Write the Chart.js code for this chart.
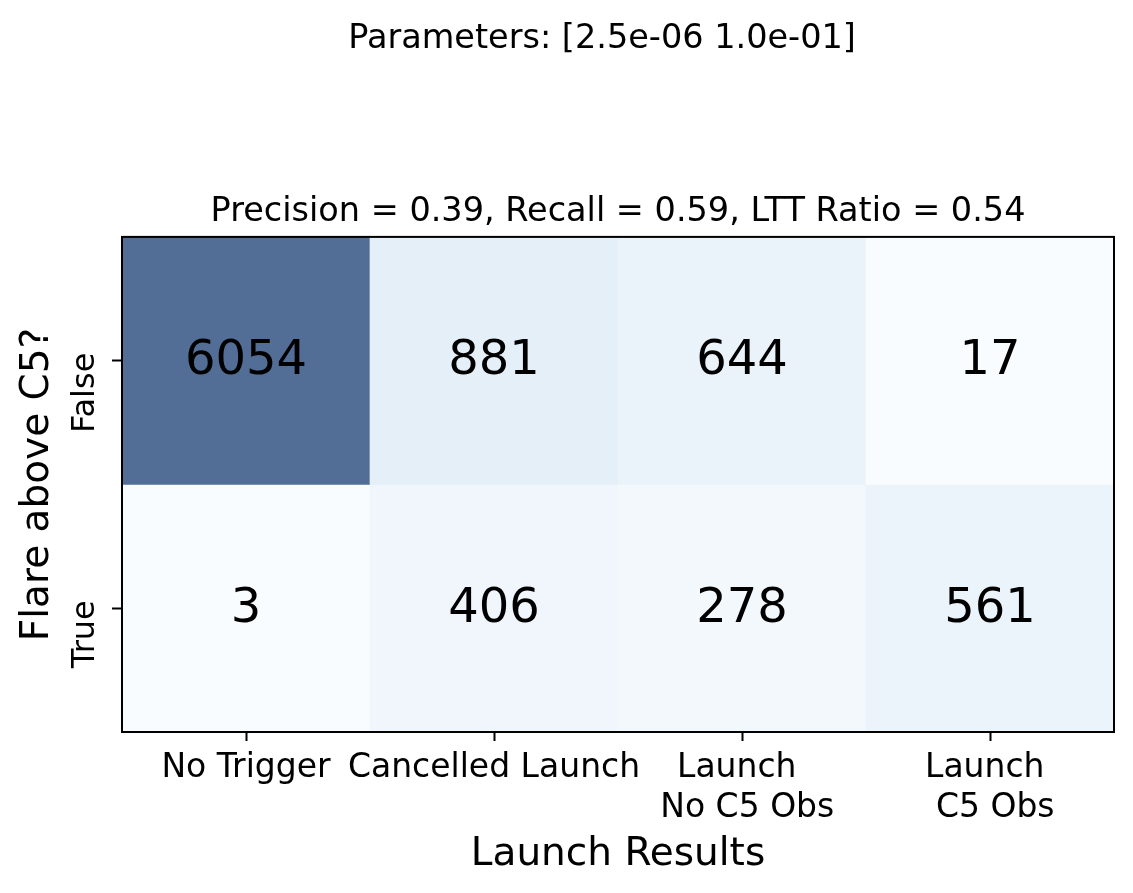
<!DOCTYPE html>
<html>
<head>
<meta charset="utf-8">
<script src="https://cdn.jsdelivr.net/npm/chart.js@4.4.0/dist/chart.umd.min.js"></script>
<style>
  html, body { margin: 0; padding: 0; background: #fff; }
</style>
</head>
<body>
<canvas id="heatmap" width="1133" height="893"></canvas>
<script>
// chart data
const launchResults = ["No Trigger", "Cancelled Launch", ["Launch ", " No C5 Obs"], ["Launch ", " C5 Obs"]];
const flareRows = ["False", "True"];
const countsFalse = [6054, 881, 644, 17];
const countsTrue = [3, 406, 278, 561];
const suptitleText = "Parameters: [2.5e-06 1.0e-01]   ";
const titleText = "Precision = 0.39, Recall = 0.59, LTT Ratio = 0.54";
const xTitle = "Launch Results";
const yTitle = "Flare above C5?";

const rowCounts = [countsFalse, countsTrue];

// matplotlib "Blues" colormap, drawn with alpha 0.7 over white
const blues = [
    [247, 251, 255], [222, 235, 247], [198, 219, 239], [158, 202, 225], [107, 174, 214],
    [66, 146, 198], [33, 113, 181], [8, 81, 156], [8, 48, 107]
];
const allCounts = countsFalse.concat(countsTrue);
const vmin = Math.min(...allCounts);
const vmax = Math.max(...allCounts);

function cellColor(v) {
    const t = (v - vmin) / (vmax - vmin) * (blues.length - 1);
    const i = Math.min(Math.floor(t), blues.length - 2);
    const f = t - i;
    const rgb = blues[i].map((c, k) => c + (blues[i + 1][k] - c) * f);
    const mixed = rgb.map(c => Math.round(0.7 * c + 0.3 * 255));
    return `rgb(${mixed[0]}, ${mixed[1]}, ${mixed[2]})`;
}

const datasets = flareRows.map((row, r) => {
    const lo = flareRows.length - 1 - r; // False row on top
    return {
        label: row,
        data: rowCounts[r].map(() => [lo, lo + 1]),
        counts: rowCounts[r],
        backgroundColor: rowCounts[r].map(cellColor),
        borderWidth: 0,
        grouped: false,
        barPercentage: 1,
        categoryPercentage: 1,
    };
});

// numbers in cells, y tick labels (rotated) and the axes frame
const heatmapExtras = {
    id: "heatmapExtras",
    afterDatasetsDraw(chart) {
        const ctx = chart.ctx;
        ctx.save();
        ctx.fillStyle = "#000";
        ctx.textAlign = "center";
        ctx.textBaseline = "middle";
        ctx.font = "48px 'DejaVu Sans'";
        chart.data.datasets.forEach((ds, di) => {
            chart.getDatasetMeta(di).data.forEach((bar, i) => {
                const c = bar.getCenterPoint();
                ctx.fillText(String(ds.counts[i]), c.x, c.y + 1);
            });
        });

        const ys = chart.scales.y;
        ctx.font = "32px 'DejaVu Sans'";
        ctx.textAlign = "right";
        ys.ticks.forEach(t => {
            const label = flareRows[flareRows.length - 1 - Math.floor(t.value)];
            ctx.save();
            ctx.translate(ys.right - 36, ys.getPixelForValue(t.value) - 8);
            ctx.rotate(-Math.PI / 2);
            ctx.fillText(label, 0, 0);
            ctx.restore();
        });

        const a = chart.chartArea;
        ctx.strokeStyle = "#000";
        ctx.lineWidth = 2;
        ctx.strokeRect(a.left, a.top, a.right - a.left, a.bottom - a.top);
        ctx.restore();
    }
};

Chart.defaults.font.family = "'DejaVu Sans', sans-serif";
Chart.defaults.color = "#000";

const ctx = document.getElementById("heatmap").getContext("2d");
new Chart(ctx, {
    type: "bar",
    data: { labels: launchResults, datasets: datasets },
    plugins: [heatmapExtras],
    options: {
        responsive: false,
        animation: false,
        layout: { padding: { left: 0, right: 19, top: 0, bottom: 0 } },
        plugins: {
            legend: { display: false },
            tooltip: { enabled: false },
            title: {
                display: true,
                text: suptitleText,
                fullSize: false,
                font: { size: 33.5, weight: "normal" },
                padding: { top: 19, bottom: 133 },
            },
            subtitle: {
                display: true,
                text: titleText,
                fullSize: false,
                color: "#000",
                font: { size: 33.5, weight: "normal" },
                padding: { top: 0, bottom: 4.5 },
            },
        },
        scales: {
            x: {
                type: "category",
                offset: true,
                afterFit: s => { s.height = 161; },
                grid: {
                    offset: false,
                    drawOnChartArea: false,
                    drawTicks: true,
                    tickLength: 9,
                    tickWidth: 2,
                    tickColor: "#000",
                },
                border: { display: false },
                ticks: {
                    font: { size: 33 },
                    color: "#000",
                    padding: 8,
                    maxRotation: 0,
                    minRotation: 0,
                    autoSkip: false,
                },
                title: {
                    display: true,
                    text: xTitle,
                    font: { size: 39 },
                    color: "#000",
                    padding: { top: 0, bottom: 14.5 },
                },
            },
            y: {
                type: "linear",
                min: 0,
                max: 2,
                afterFit: s => { s.width = 122; },
                afterBuildTicks: s => { s.ticks = [{ value: 0.5 }, { value: 1.5 }]; },
                grid: {
                    drawOnChartArea: false,
                    drawTicks: true,
                    tickLength: 10,
                    tickWidth: 2,
                    tickColor: "#000",
                },
                border: { display: false },
                ticks: { display: false },
                title: {
                    display: true,
                    text: yTitle,
                    font: { size: 39 },
                    color: "#000",
                    padding: { top: 14, bottom: 0 },
                },
            },
        },
    },
});
</script>
</body>
</html>
